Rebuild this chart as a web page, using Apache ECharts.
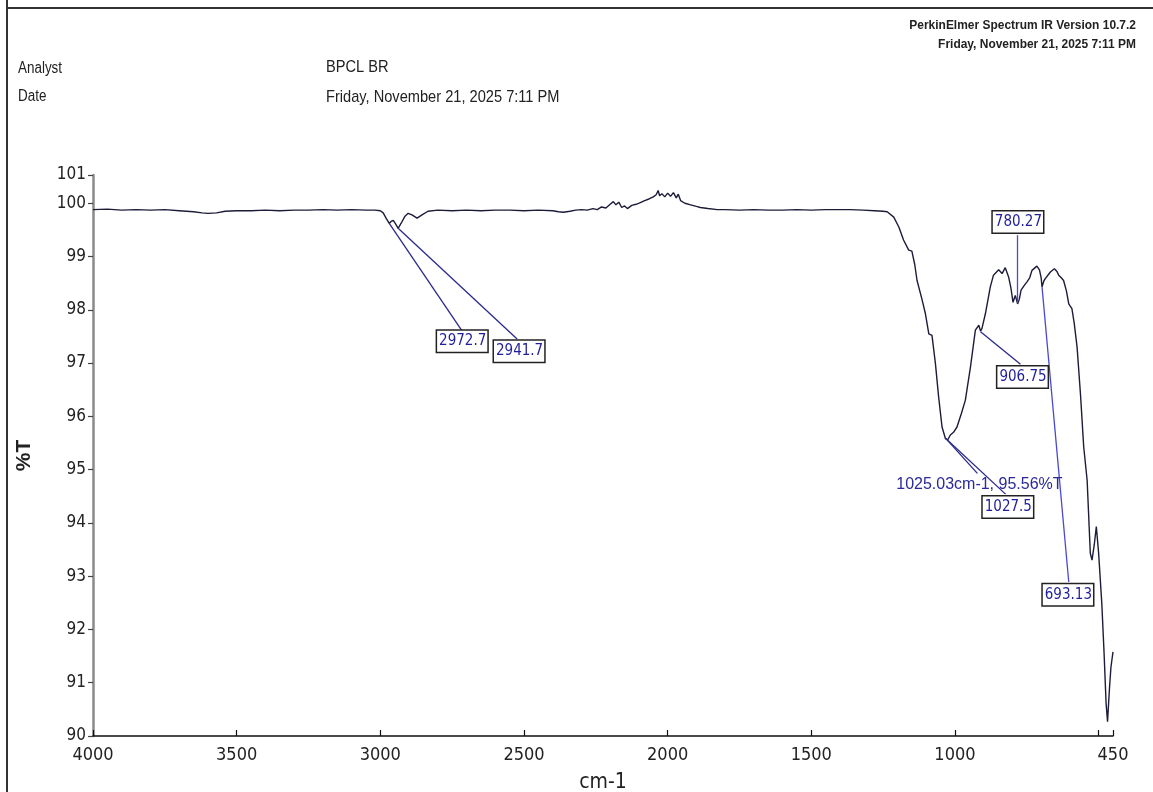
<!DOCTYPE html>
<html>
<head>
<meta charset="utf-8">
<script src="https://cdn.jsdelivr.net/npm/echarts@6/dist/echarts.min.js"></script>
<style>
html,body{margin:0;padding:0;background:#fff;}
#chart{width:1153px;height:792px;}
</style>
</head>
<body>
<div id="chart"></div>
<script>
// Spectrum: wavenumber (cm-1) and %T
const wavenumbers = [4000,3950,3900,3850,3800,3750,3700,3650,3620,3600,3570,3540,3500,3450,3400,3350,3300,3250,3200,3150,3100,3050,3020,3000,2990,2980,2969,2962,2955,2948,2938,2928,2915,2903,2890,2872,2855,2834,2800,2750,2700,2650,2600,2550,2500,2450,2400,2380,2363,2340,2320,2300,2280,2260,2245,2230,2215,2200,2189,2180,2170,2160,2150,2140,2125,2110,2095,2080,2065,2050,2040,2033,2028,2020,2010,2000,1990,1980,1970,1963,1955,1940,1920,1900,1886,1860,1827,1800,1750,1700,1650,1600,1550,1500,1450,1400,1364,1320,1280,1250,1236,1213,1195,1179,1161,1150,1140,1132,1115,1103,1091,1080,1068,1057,1045,1033,1025,1016,1005,993,978,964,946,929,917,911,906,894,877,866,848,836,825,813,805,798,790,782,776,770,760,750,740,732,715,706,700,697,690,685,668,654,645,639,630,622,612,604,593,585,575,563,552,540,529,523,515,508,500,489,481,474,469,462,457,450];
const transmittance = [99.88,99.89,99.87,99.88,99.87,99.88,99.86,99.84,99.82,99.81,99.82,99.85,99.86,99.86,99.87,99.86,99.87,99.87,99.88,99.87,99.88,99.87,99.87,99.86,99.82,99.72,99.62,99.66,99.68,99.62,99.53,99.62,99.75,99.81,99.78,99.72,99.78,99.85,99.87,99.86,99.87,99.86,99.87,99.87,99.86,99.87,99.86,99.84,99.83,99.85,99.87,99.88,99.87,99.90,99.88,99.93,99.91,99.98,100.03,99.97,100.02,99.92,99.95,99.90,99.96,99.98,100.01,100.05,100.08,100.12,100.16,100.24,100.14,100.18,100.12,100.19,100.13,100.20,100.10,100.17,100.05,100.00,99.97,99.94,99.92,99.90,99.88,99.88,99.87,99.88,99.87,99.87,99.88,99.87,99.88,99.88,99.88,99.87,99.86,99.85,99.84,99.74,99.55,99.31,99.12,99.10,98.85,98.55,98.20,97.93,97.55,97.52,96.99,96.37,95.80,95.58,95.56,95.65,95.70,95.80,96.05,96.30,96.93,97.62,97.71,97.60,97.65,97.93,98.43,98.65,98.75,98.68,98.79,98.61,98.40,98.14,98.27,98.11,98.20,98.37,98.45,98.52,98.60,98.74,98.82,98.75,98.60,98.43,98.55,98.59,98.71,98.77,98.72,98.65,98.60,98.55,98.35,98.11,98.02,97.75,97.30,96.40,95.43,94.80,93.43,93.30,93.60,93.93,93.43,92.49,91.55,90.61,90.27,90.92,91.30,91.58];

// Axis ticks
const xTickValues = [4000,3500,3000,2500,2000,1500,1000,500,450];
const xLabelValues = [4000,3500,3000,2500,2000,1500,1000,450];
const yTickValues = [90,91,92,93,94,95,96,97,98,99,100,100.53];

// Peak annotations
const peakLabels = ['2972.7','2941.7','906.75','780.27','693.13','1027.5'];
const peakX = [2969,2938,911,782,697,1033];
const peakY = [99.62,99.53,97.59,98.12,98.43,95.59];
// annotation layout (label box centre and leader end, in data units)
const boxX = [2715,2517,765,781,607,816];
const boxY = [97.41,97.22,96.74,99.65,92.65,94.30];
const leadX = [2715,2524,772,782,604,824];
const leadY = [97.60,97.45,96.98,99.40,92.89,94.54];
const leadColor = ['#2a2a8a','#2a2a8a','#2a2a8a','#4a4ad0','#4a4ad0','#2a2a8a'];

const minLabel = '1025.03cm-1, 95.56%T';
const minLabelPos = [915,94.71];
const minLeadEnd = [922,94.93];

const narrow = '"Liberation Sans Narrow","Arial Narrow","DejaVu Sans Condensed",sans-serif';
const arial = '"Liberation Sans",Arial,sans-serif';

const spectrum = wavenumbers.map((w,i)=>[w,transmittance[i]]);

const markLines = peakLabels.map((t,i)=>[
  {coord:[peakX[i],peakY[i]], lineStyle:{color:leadColor[i],width:1.3,type:'solid'}},
  {coord:[leadX[i],leadY[i]]}
]);
markLines.push([
  {coord:[peakX[5],peakY[5]], lineStyle:{color:'#2a2a8a',width:1.3,type:'solid'}},
  {coord:minLeadEnd}
]);

const markPoints = peakLabels.map((t,i)=>({
  coord:[boxX[i],boxY[i]],
  value:t,
  symbol:'rect', symbolSize:1,
  itemStyle:{color:'rgba(0,0,0,0)'},
  label:{
    show:true, position:'inside', formatter:t,
    color:'#1f1f9a', fontFamily:narrow, fontSize:15,
    backgroundColor:'#fff', borderColor:'#222', borderWidth:1.5,
    padding:[2,1,1,2], lineHeight:18
  }
}));
markPoints.push({
  coord:minLabelPos, value:minLabel, symbol:'rect', symbolSize:1,
  itemStyle:{color:'rgba(0,0,0,0)'},
  label:{show:true, position:'inside', formatter:minLabel,
    color:'#2a2a9a', fontFamily:arial, fontSize:16}
});

function hdr(x, y, text, size, align, weight, sx){
  return {type:'text', x:x, y:y, scaleX:sx||0.84, scaleY:1,
    style:{text:text, x:0, y:0, font:(weight||'normal')+' '+size+'px '+arial, fill:'#222',
      align:align||'left', verticalAlign:'middle'}};
}

const chart = echarts.init(document.getElementById('chart'), null, {renderer:'canvas'});
chart.setOption({
  animation:false,
  backgroundColor:'#fff',
  grid:{left:93, right:40, top:175, bottom:56, containLabel:false, outerBoundsMode:'none'},
  xAxis:{
    type:'value', inverse:true, min:450, max:4000,
    name:'cm-1', nameLocation:'middle', nameGap:36,
    nameTextStyle:{fontFamily:narrow, fontSize:21, color:'#222'},
    axisLine:{show:true, lineStyle:{color:'#111', width:1.5}},
    axisTick:{show:true, inside:true, length:6, lineStyle:{color:'#111', width:1.2}, customValues:xTickValues},
    axisLabel:{show:true, customValues:xLabelValues, margin:10, fontFamily:narrow, fontSize:18, color:'#222',
      formatter:function(v){return String(Math.round(v));}},
    splitLine:{show:false}
  },
  yAxis:{
    type:'value', min:90, max:100.53,
    name:'%T', nameLocation:'middle', nameGap:58, nameRotate:90,
    nameTextStyle:{fontFamily:arial, fontSize:21, fontWeight:'bold', color:'#222'},
    axisLine:{show:true, lineStyle:{color:'#8a8a8a', width:2.5}},
    axisTick:{show:true, inside:false, length:5, lineStyle:{color:'#444', width:1.2}, customValues:yTickValues},
    axisLabel:{show:true, customValues:yTickValues, margin:7, fontFamily:narrow, fontSize:17, color:'#222',
      formatter:function(v){return v>100.2?'101':String(Math.round(v));}},
    splitLine:{show:false}
  },
  series:[{
    type:'line', data:spectrum, showSymbol:false, symbol:'none',
    lineStyle:{color:'#1c1c3a', width:1.4}, smooth:false,
    markLine:{silent:true, symbol:'none', label:{show:false}, lineStyle:{type:'solid'}, data:markLines},
    markPoint:{silent:true, data:markPoints}
  }],
  graphic:[
    {type:'line', shape:{x1:7,y1:0,x2:7,y2:792}, style:{stroke:'#333', lineWidth:2}},
    {type:'line', shape:{x1:7,y1:8,x2:1153,y2:8}, style:{stroke:'#333', lineWidth:2}},
    hdr(18, 69, 'Analyst', 16),
    hdr(18, 97, 'Date', 16),
    hdr(326, 67, 'BPCL BR', 17, 'left', 'normal', 0.86),
    hdr(326, 97, 'Friday, November 21, 2025 7:11 PM', 17, 'left', 'normal', 0.86),
    hdr(1136, 25, 'PerkinElmer Spectrum IR Version 10.7.2', 13, 'right', 'bold', 0.92),
    hdr(1136, 44, 'Friday, November 21, 2025 7:11 PM', 13, 'right', 'bold', 0.92)
  ]
});
</script>
</body>
</html>
